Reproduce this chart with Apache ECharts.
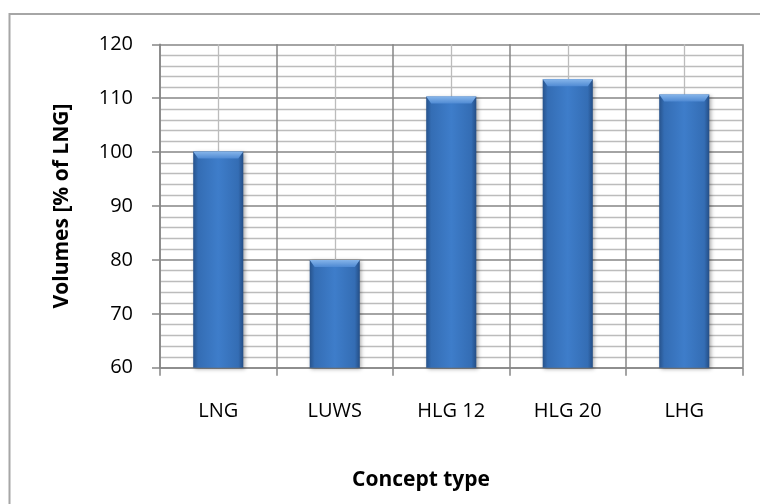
<!DOCTYPE html>
<html>
<head>
<meta charset="utf-8">
<script src="https://cdn.jsdelivr.net/npm/echarts@6/dist/echarts.min.js"></script>
<style>
  html, body { margin: 0; padding: 0; background: #fff; }
  #chart { width: 760px; height: 504px; }
</style>
</head>
<body>
<div id="chart"></div>
<script>
// Concept types and their volumes relative to LNG (%)
const categories = ['LNG', 'LUWS', 'HLG 12', 'HLG 20', 'LHG'];
const volumes = [100.1, 80.0, 110.3, 113.5, 110.7];
const yTicks = [60, 70, 80, 90, 100, 110, 120];

const FONT = '"Open Sans", "Noto Sans", sans-serif';
const chart = echarts.init(document.getElementById('chart'), null, { renderer: 'canvas' });

// Lighter bevel cap on top of each column
function renderBevel(params, api) {
  const idx = api.value(0);
  const val = api.value(1);
  const top = api.coord([idx, val]);
  const size = api.size([1, 0]);
  const w = size[0] * 0.43;
  const x0 = top[0] - w / 2, x1 = top[0] + w / 2, y0 = top[1];
  const h = 7, inset = 5;
  return {
    type: 'polygon',
    shape: { points: [[x0, y0], [x1, y0], [x1 - inset, y0 + h], [x0 + inset, y0 + h]] },
    style: {
      fill: new echarts.graphic.LinearGradient(0, 0, 0, 1, [
        { offset: 0, color: '#86b5ea' },
        { offset: 1, color: '#4f8ad3' }
      ])
    }
  };
}

chart.setOption({
  animation: false,
  backgroundColor: '#ffffff',
  graphic: [
    {
      type: 'rect',
      shape: { x: 9.5, y: 14, width: 800, height: 600 },
      style: { fill: 'none', stroke: '#a6a6a6', lineWidth: 2 },
      z: -10
    },
    {
      type: 'text',
      x: 421, y: 480,
      style: {
        text: 'Concept type', font: 'bold 21px ' + FONT, fill: '#000',
        align: 'center', verticalAlign: 'middle'
      }
    },
    {
      type: 'text',
      x: 62, y: 206, rotation: Math.PI / 2,
      style: {
        text: 'Volumes [% of LNG]', font: 'bold 21px ' + FONT, fill: '#000',
        align: 'center', verticalAlign: 'middle'
      }
    }
  ],
  grid: { left: 160, right: 17.5, top: 44.3, bottom: 136.3, containLabel: false },
  xAxis: [
    {
      type: 'category',
      data: categories,
      boundaryGap: true,
      axisLine: { show: true, lineStyle: { color: '#868686', width: 1.5 } },
      axisTick: { show: true, alignWithLabel: false, length: 8, lineStyle: { color: '#868686', width: 1.5 } },
      axisLabel: { color: '#000', fontFamily: FONT, fontSize: 20, margin: 34 },
      splitLine: { show: false },
      z: 3
    },
    {
      // Hidden helper scale that draws the vertical grid (boundaries + centres)
      type: 'value',
      position: 'top',
      min: 0, max: 5, interval: 1,
      axisLine: { show: false },
      axisTick: { show: false },
      axisLabel: { show: false },
      splitLine: { show: true, lineStyle: { color: '#868686', width: 1.5 } },
      minorTick: { show: false, splitNumber: 2 },
      minorSplitLine: { show: true, lineStyle: { color: '#bcbcbc', width: 1.3 } }
    }
  ],
  yAxis: {
    type: 'value',
    min: yTicks[0], max: yTicks[yTicks.length - 1], interval: 10,
    axisLine: { show: true, lineStyle: { color: '#868686', width: 1.5 } },
    axisTick: { show: true, length: 8, lineStyle: { color: '#868686', width: 1.5 } },
    axisLabel: { color: '#000', fontFamily: FONT, fontSize: 20, margin: 27 },
    splitLine: { show: true, lineStyle: { color: '#868686', width: 1.5 } },
    minorTick: { show: false, splitNumber: 5 },
    minorSplitLine: { show: true, lineStyle: { color: '#bcbcbc', width: 1.3 } }
  },
  series: [
    {
      type: 'bar',
      xAxisIndex: 0,
      data: volumes,
      barWidth: '43%',
      itemStyle: {
        color: new echarts.graphic.LinearGradient(0, 0, 1, 0, [
          { offset: 0, color: '#27538c' },
          { offset: 0.1, color: '#346db4' },
          { offset: 0.5, color: '#3e7dca' },
          { offset: 0.9, color: '#346db4' },
          { offset: 1, color: '#244e86' }
        ]),
        shadowColor: 'rgba(0,0,0,0.35)',
        shadowBlur: 4,
        shadowOffsetX: 1.5,
        shadowOffsetY: 1.5
      },
      z: 4
    },
    {
      type: 'custom',
      xAxisIndex: 0,
      renderItem: renderBevel,
      data: volumes.map((v, i) => [i, v]),
      z: 5,
      silent: true
    }
  ]
});
</script>
</body>
</html>
